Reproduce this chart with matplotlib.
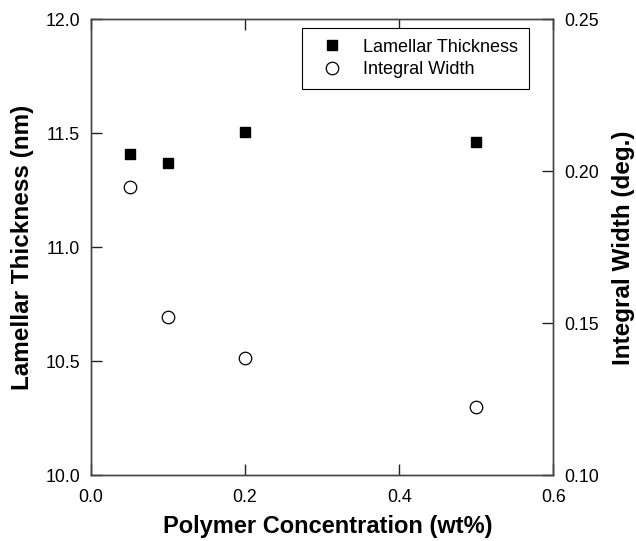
import matplotlib
matplotlib.use('Agg')
import matplotlib.pyplot as plt

plt.rcParams['font.family'] = ['Liberation Sans', 'DejaVu Sans']

# values
conc = [0.05, 0.1, 0.2, 0.5]
thickness = [11.41, 11.37, 11.505, 11.46]
integral_width = [0.195, 0.152, 0.1387, 0.1225]

x_ticks = [0.0, 0.2, 0.4, 0.6]
left_ticks = [10.0, 10.5, 11.0, 11.5, 12.0]
right_ticks = [0.10, 0.15, 0.20, 0.25]

fig = plt.figure(figsize=(6.36, 5.41), dpi=100)
ax = fig.add_axes([0.1431, 0.1214, 0.7269, 0.8429])
ax2 = ax.twinx()

h1, = ax.plot(conc, thickness, linestyle='none', marker='s', markersize=7.5,
              color='black', label='Lamellar Thickness')
h2, = ax2.plot(conc, integral_width, linestyle='none', marker='o', markersize=9,
               markerfacecolor='white', markeredgecolor='black', markeredgewidth=0.9,
               label='Integral Width')

ax.set_xlim(0.0, 0.6)
ax.set_ylim(10.0, 12.0)
ax2.set_ylim(0.10, 0.25)
ax.set_xticks(x_ticks)
ax.set_xticklabels(['%.1f' % v for v in x_ticks])
ax.set_yticks(left_ticks)
ax.set_yticklabels(['%.1f' % v for v in left_ticks])
ax2.set_yticks(right_ticks)
ax2.set_yticklabels(['%.2f' % v for v in right_ticks])

for a in (ax, ax2):
    for s in a.spines.values():
        s.set_color('#444444')
        s.set_linewidth(1.0)
ax.tick_params(axis='both', direction='in', length=8, width=1.0, labelsize=12.8, pad=8,
               top=True, color='#222222')
ax.tick_params(axis='x', pad=9.5)
ax2.tick_params(axis='y', direction='in', length=8, width=1.0, labelsize=12.8, pad=8,
                color='#222222')

ax.set_xlabel('Polymer Concentration (wt%)', fontsize=17, fontweight='bold')
ax.xaxis.set_label_coords(0.511, -0.086)
ax.set_ylabel('Lamellar Thickness (nm)', fontsize=17.5, fontweight='bold', labelpad=8)
ax2.set_ylabel('Integral Width (deg.)', fontsize=17.5, fontweight='bold', labelpad=9)

leg = ax2.legend([h1, h2], ['Lamellar Thickness', 'Integral Width'],
                 loc='upper right', bbox_to_anchor=(0.948, 0.9816), borderaxespad=0,
                 fontsize=13, fancybox=False, framealpha=1, edgecolor='black',
                 handlelength=2.1, handletextpad=0.7, labelspacing=0.3, borderpad=0.6)
leg.get_frame().set_linewidth(0.8)

fig.savefig('out.png', dpi=100)
